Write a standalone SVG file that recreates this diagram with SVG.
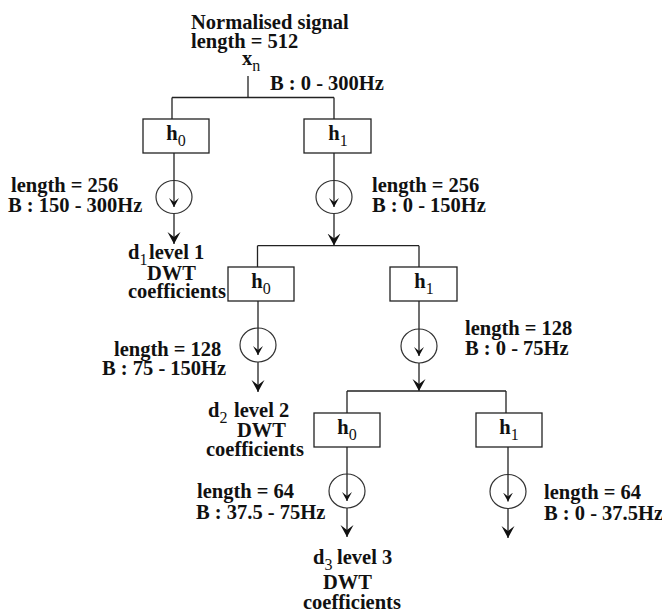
<svg xmlns="http://www.w3.org/2000/svg" width="662" height="612" viewBox="0 0 662 612" font-family="'Liberation Serif', 'DejaVu Serif', serif">
<style>
text{font-family:"Liberation Serif","DejaVu Serif",serif;font-size:20.5px;font-weight:bold;fill:#111}
.sub{font-size:16px;font-weight:normal}
.box{fill:#fff;stroke:#222;stroke-width:1.3}
.ring{fill:none;stroke:#333;stroke-width:1.2}
.ln{fill:none;stroke:#222;stroke-width:1.3}
.arr{fill:none;stroke:#222;stroke-width:1.3;marker-end:url(#big)}
.inarr{fill:none;stroke:#222;stroke-width:1.3;marker-end:url(#small)}
</style>
<defs>
<marker id="big" markerUnits="userSpaceOnUse" markerWidth="13" markerHeight="14" refX="12" refY="6.5" orient="auto" viewBox="0 0 13 13">
<path d="M0,0 L12,6.5 L0,13 L5,6.5 Z" fill="#111"/>
</marker>
<marker id="small" markerUnits="userSpaceOnUse" markerWidth="10" markerHeight="11" refX="9" refY="5" orient="auto" viewBox="0 0 10 10">
<path d="M0,0 L9,5 L0,10 L4,5 Z" fill="#111"/>
</marker>
</defs>
<rect width="662" height="612" fill="#fff"/>

<g id="input">
<text x="191" y="29">Normalised signal</text>
<text x="191" y="48">length = 512</text>
<text x="242" y="65">x<tspan class="sub" dy="6">n</tspan></text>
<text x="270" y="90">B : 0 - 300Hz</text>
</g>

<g id="connectors">
<path class="ln" d="M248,76 V97.5 M172,97.5 H334 M172,97.5 V119 M334,97.5 V119"/>
<path class="ln" d="M174,153 V180.5 M334,153 V180.5"/>
<path class="arr" d="M174,213.5 V244"/>
<path class="arr" d="M334,213.5 V245.5"/>
<path class="ln" d="M257.5,245.7 H419 M257.5,245.7 V267 M419,245.7 V267"/>
<path class="ln" d="M258,301 V328 M419,301 V329"/>
<path class="arr" d="M258,362 V392"/>
<path class="arr" d="M419,363 V391"/>
<path class="ln" d="M347,391 H506 M347,391 V413 M506,391 V413"/>
<path class="ln" d="M347,447 V474 M508,447 V474.5"/>
<path class="arr" d="M347,508 V537"/>
<path class="arr" d="M508,508.5 V538"/>
</g>

<g id="h0-level1">
<rect class="box" x="143" y="119" width="66" height="34"/>
<text x="176" y="140" text-anchor="middle">h<tspan class="sub" dy="6">0</tspan></text>
</g>
<g id="h1-level1">
<rect class="box" x="304" y="119" width="67" height="34"/>
<text x="338" y="140" text-anchor="middle">h<tspan class="sub" dy="6">1</tspan></text>
</g>
<g id="down-h0-level1">
<ellipse class="ring" cx="174" cy="197" rx="18" ry="16.5"/>
<path class="inarr" d="M174,180.5 V207"/>
</g>
<g id="down-h1-level1">
<ellipse class="ring" cx="334" cy="197" rx="18" ry="16.5"/>
<path class="inarr" d="M334,180.5 V207"/>
</g>
<g id="labels-level1">
<text x="11" y="192">length = 256</text>
<text x="8" y="212">B : 150 - 300Hz</text>
<text x="372" y="192">length = 256</text>
<text x="372" y="212">B : 0 - 150Hz</text>
</g>
<g id="d1">
<text x="128" y="259">d<tspan class="sub" dy="6">1</tspan><tspan dy="-6" x="149">level 1</tspan></text>
<text x="147" y="280">DWT</text>
<text x="128" y="298">coefficients</text>
</g>

<g id="h0-level2">
<rect class="box" x="228" y="267" width="66" height="34"/>
<text x="261" y="288" text-anchor="middle">h<tspan class="sub" dy="6">0</tspan></text>
</g>
<g id="h1-level2">
<rect class="box" x="390" y="267" width="67" height="34"/>
<text x="424" y="288" text-anchor="middle">h<tspan class="sub" dy="6">1</tspan></text>
</g>
<g id="down-h0-level2">
<ellipse class="ring" cx="258" cy="345" rx="18" ry="17"/>
<path class="inarr" d="M258,328 V355"/>
</g>
<g id="down-h1-level2">
<ellipse class="ring" cx="419" cy="346" rx="18" ry="17"/>
<path class="inarr" d="M419,329 V356"/>
</g>
<g id="labels-level2">
<text x="114" y="356">length = 128</text>
<text x="102" y="375">B : 75 - 150Hz</text>
<text x="465" y="335">length = 128</text>
<text x="465" y="355">B : 0 - 75Hz</text>
</g>
<g id="d2">
<text x="208" y="417">d<tspan class="sub" dy="6">2</tspan><tspan dy="-6" x="234">level 2</tspan></text>
<text x="237" y="437">DWT</text>
<text x="206" y="456">coefficients</text>
</g>

<g id="h0-level3">
<rect class="box" x="314" y="413" width="66" height="34"/>
<text x="347" y="434" text-anchor="middle">h<tspan class="sub" dy="6">0</tspan></text>
</g>
<g id="h1-level3">
<rect class="box" x="476" y="413" width="66" height="34"/>
<text x="509" y="434" text-anchor="middle">h<tspan class="sub" dy="6">1</tspan></text>
</g>
<g id="down-h0-level3">
<ellipse class="ring" cx="347" cy="491" rx="18" ry="17"/>
<path class="inarr" d="M347,474 V501"/>
</g>
<g id="down-h1-level3">
<ellipse class="ring" cx="508" cy="491.5" rx="18" ry="17"/>
<path class="inarr" d="M508,474.5 V501.5"/>
</g>
<g id="labels-level3">
<text x="197" y="498">length = 64</text>
<text x="196" y="519">B : 37.5 - 75Hz</text>
<text x="544" y="499">length = 64</text>
<text x="544" y="520">B : 0 - 37.5Hz</text>
</g>
<g id="d3">
<text x="313" y="564">d<tspan class="sub" dy="6">3</tspan><tspan dy="-6" x="337">level 3</tspan></text>
<text x="323" y="589">DWT</text>
<text x="303" y="609">coefficients</text>
</g>
</svg>
